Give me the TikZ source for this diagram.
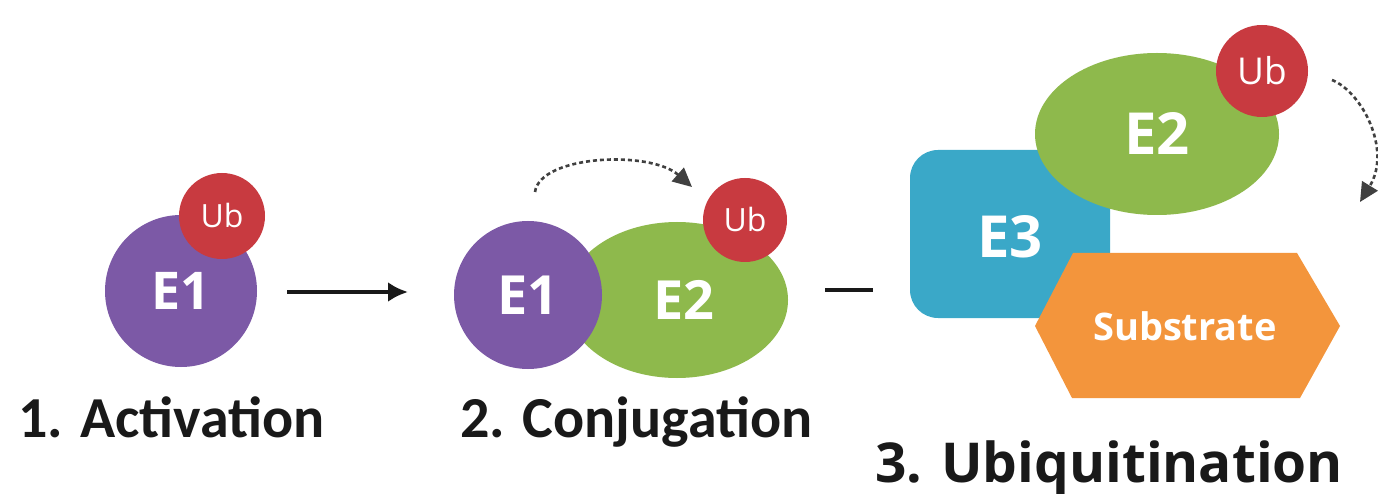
\documentclass[tikz,border=0pt]{standalone}
\usepackage{fontspec}
\newfontfamily\calib{Carlito}
\newfontfamily\osans{Open Sans}
\usetikzlibrary{shapes.geometric,arrows.meta}
\definecolor{cPurple}{RGB}{124,89,166}
\definecolor{cRed}{RGB}{200,58,64}
\definecolor{cGreen}{RGB}{142,185,76}
\definecolor{cBlue}{RGB}{58,168,200}
\definecolor{cOrange}{RGB}{243,149,60}
\definecolor{cInk}{RGB}{25,25,25}
\begin{document}
\begin{tikzpicture}[x=1pt,y=-1pt,
  blob/.style={circle,inner sep=0pt,text=white},
  oval/.style={ellipse,inner sep=0pt,text=white},
  bigtxt/.style={font=\osans\bfseries\fontsize{#1}{#1}\selectfont},
  ubtxt/.style={font=\osans\fontsize{#1}{#1}\selectfont},
  steplabel/.style={anchor=base west,inner sep=0pt,text=cInk},
  mainarrow/.style={line width=4pt,cInk,-{Latex[length=20pt,width=20pt]}},
  dasharrow/.style={line width=2.6pt,black!75,dash pattern=on 4pt off 3pt,-{Triangle[length=19pt,width=18pt]}}
]
\useasboundingbox[fill=white] (0,0) rectangle (1378,494);

% ---- Step 1: Activation
\node[blob,fill=cPurple,minimum size=152pt,bigtxt=52] (a1) at (181,291) {E1};
\node[blob,fill=cRed,minimum size=86pt,ubtxt=32] (ub1) at (222,216) {Ub};
\node[steplabel,font=\calib\bfseries\fontsize{58}{60}\selectfont] (l1) at (18,437) {1. Activation};

% arrow 1 -> 2
\coordinate (ar1s) at (287,292);
\coordinate (ar1e) at (408,292);
\draw[mainarrow] (ar1s) -- (ar1e);

% ---- Step 2: Conjugation
\node[oval,fill=cGreen,minimum width=222pt,minimum height=156pt] (c2) at (677,300) {};
\node[text=white,bigtxt=54] (c2t) at (684,300) {E2};
\node[blob,fill=cPurple,minimum size=148pt,bigtxt=54] (c1) at (528,295) {E1};
\node[blob,fill=cRed,minimum size=84pt,ubtxt=32] (ub2) at (745,220) {Ub};
\coordinate (d2s) at (535,192);
\coordinate (d2e) at (692,187);
\draw[dasharrow] (d2s) .. controls (540,155) and (650,150) .. (d2e);
\node[steplabel,font=\calib\bfseries\fontsize{58}{60}\selectfont] (l2) at (460,437) {2. Conjugation};

% arrow 2 -> 3 (cut off)
\coordinate (ar2s) at (825,290);
\coordinate (ar2e) at (873,290);
\draw[line width=4pt,cInk] (ar2s) -- (ar2e);

% ---- Step 3: Ubiquitination
\node[rectangle,rounded corners=28pt,fill=cBlue,minimum width=200pt,minimum height=168pt,inner sep=0pt] (e3) at (1010,234) {};
\node[oval,fill=cGreen,minimum width=244pt,minimum height=162pt,bigtxt=58] (e2) at (1157,134) {E2};
\node[text=white,bigtxt=58] (e3t) at (1010,237) {E3};
\node[blob,fill=cRed,minimum size=92pt,ubtxt=37] (ub3) at (1262,71) {Ub};
\coordinate (h1) at (1035,326);
\coordinate (h2) at (1073,253);
\coordinate (h3) at (1297,253);
\coordinate (h4) at (1340,326);
\coordinate (h5) at (1300,398);
\coordinate (h6) at (1072,398);
\fill[cOrange] (h1) -- (h2) -- (h3) -- (h4) -- (h5) -- (h6) -- cycle;
\node[text=white,bigtxt=38] (sub) at (1185,326) {Substrate};
\coordinate (d3s) at (1332,80);
\coordinate (d3e) at (1360,202);
\draw[dasharrow] (d3s) .. controls (1362,92) and (1392,150) .. (d3e);
\node[steplabel,font=\osans\bfseries\fontsize{55}{58}\selectfont] (l3) at (875,482) {3. Ubiquitination};
\end{tikzpicture}
\end{document}
